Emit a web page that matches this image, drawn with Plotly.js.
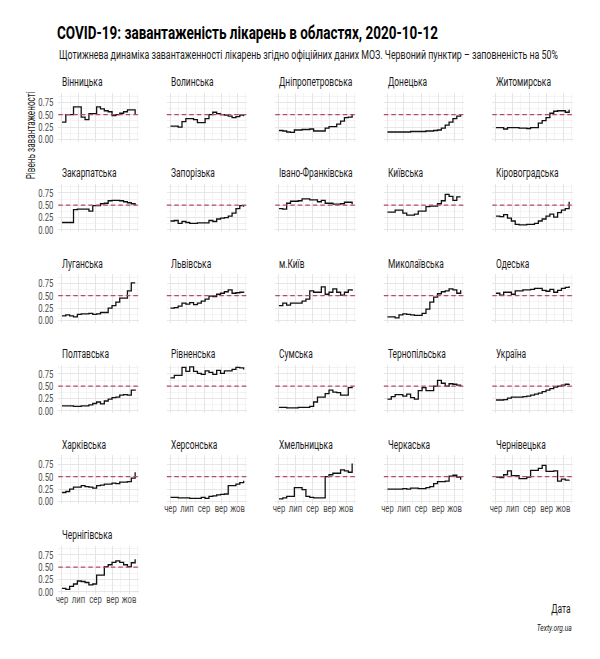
<!DOCTYPE html>
<html>
<head>
<meta charset="utf-8">
<script src="https://cdn.plot.ly/plotly-3.0.1.min.js"></script>
<style>
  html, body { margin: 0; padding: 0; background: #ffffff; }
  #chart { width: 600px; height: 659px; }
</style>
</head>
<body>
<div id="chart"></div>
<script>
// Weekly report dates
const WEEKS = [
  '2020-06-01', '2020-06-08', '2020-06-15', '2020-06-22', '2020-06-29',
  '2020-07-06', '2020-07-13', '2020-07-20', '2020-07-27', '2020-08-03',
  '2020-08-10', '2020-08-17', '2020-08-24', '2020-08-31', '2020-09-07',
  '2020-09-14', '2020-09-21', '2020-09-28', '2020-10-05', '2020-10-12'
];

// Hospital bed occupancy share, by region
const vinnytsia    = [0.35,0.50,0.50,0.66,0.66,0.45,0.40,0.52,0.52,0.66,0.62,0.58,0.56,0.48,0.50,0.53,0.56,0.60,0.60,0.50];
const volyn        = [0.27,0.27,0.25,0.36,0.42,0.42,0.40,0.34,0.34,0.42,0.50,0.55,0.52,0.50,0.49,0.47,0.44,0.46,0.49,0.47];
const dnipro       = [0.18,0.17,0.15,0.14,0.19,0.19,0.20,0.20,0.21,0.17,0.17,0.17,0.23,0.26,0.26,0.31,0.37,0.44,0.45,0.50];
const donetsk      = [0.15,0.15,0.15,0.15,0.15,0.15,0.16,0.16,0.16,0.16,0.17,0.17,0.18,0.19,0.23,0.29,0.35,0.42,0.47,0.50];
const zhytomyr     = [0.24,0.24,0.21,0.24,0.24,0.24,0.23,0.23,0.22,0.24,0.24,0.33,0.38,0.44,0.53,0.57,0.58,0.58,0.55,0.60];
const zakarpattia  = [0.15,0.15,0.15,0.41,0.42,0.42,0.42,0.38,0.49,0.49,0.53,0.54,0.59,0.60,0.60,0.59,0.57,0.55,0.53,0.50];
const zaporizhzhia = [0.18,0.19,0.13,0.17,0.15,0.13,0.13,0.14,0.14,0.14,0.19,0.17,0.22,0.24,0.25,0.28,0.34,0.43,0.49,0.47];
const ivanoFrank   = [0.43,0.42,0.54,0.58,0.58,0.59,0.63,0.63,0.61,0.61,0.57,0.60,0.54,0.54,0.52,0.52,0.53,0.56,0.56,0.52];
const kyivRegion   = [0.36,0.36,0.40,0.40,0.34,0.30,0.30,0.32,0.38,0.38,0.47,0.48,0.48,0.53,0.59,0.72,0.68,0.60,0.67,0.67];
const kirovohrad   = [0.28,0.27,0.31,0.24,0.18,0.11,0.10,0.10,0.11,0.11,0.13,0.18,0.22,0.28,0.32,0.26,0.35,0.40,0.43,0.57];
const luhansk      = [0.09,0.11,0.09,0.07,0.12,0.13,0.13,0.14,0.12,0.13,0.16,0.16,0.25,0.30,0.37,0.45,0.45,0.60,0.76,0.76];
const lviv         = [0.25,0.26,0.29,0.35,0.33,0.36,0.32,0.35,0.39,0.43,0.49,0.48,0.53,0.55,0.58,0.62,0.55,0.56,0.57,0.56];
const kyivCity     = [0.30,0.35,0.31,0.35,0.35,0.35,0.39,0.43,0.60,0.57,0.57,0.68,0.53,0.57,0.64,0.57,0.51,0.57,0.62,0.60];
const mykolaiv     = [0.07,0.07,0.05,0.11,0.13,0.12,0.11,0.10,0.10,0.14,0.23,0.37,0.47,0.54,0.58,0.60,0.64,0.62,0.55,0.61];
const odesa        = [0.55,0.51,0.57,0.57,0.53,0.60,0.60,0.62,0.62,0.63,0.65,0.65,0.61,0.59,0.63,0.57,0.61,0.65,0.67,0.69];
const poltava      = [0.10,0.10,0.10,0.09,0.09,0.10,0.10,0.12,0.15,0.18,0.14,0.20,0.24,0.27,0.28,0.32,0.33,0.32,0.42,0.41];
const rivne        = [0.67,0.72,0.72,0.88,0.80,0.89,0.80,0.76,0.74,0.81,0.78,0.74,0.82,0.76,0.81,0.81,0.84,0.88,0.87,0.84];
const sumy         = [0.07,0.07,0.06,0.06,0.06,0.07,0.07,0.07,0.09,0.18,0.28,0.28,0.35,0.42,0.38,0.37,0.32,0.32,0.47,0.50];
const ternopil     = [0.24,0.29,0.33,0.33,0.30,0.34,0.27,0.24,0.41,0.47,0.41,0.41,0.50,0.62,0.56,0.50,0.55,0.54,0.52,0.50];
const ukraine      = [0.22,0.22,0.23,0.26,0.28,0.28,0.28,0.29,0.30,0.32,0.34,0.36,0.39,0.42,0.45,0.48,0.50,0.52,0.54,0.55];
const kharkiv      = [0.18,0.20,0.25,0.29,0.29,0.32,0.30,0.29,0.27,0.32,0.33,0.35,0.35,0.37,0.36,0.39,0.39,0.40,0.47,0.59];
const kherson      = [0.08,0.08,0.07,0.07,0.07,0.06,0.06,0.06,0.08,0.06,0.10,0.11,0.13,0.14,0.15,0.32,0.32,0.35,0.38,0.42];
const khmelnytskyi = [0.05,0.07,0.10,0.10,0.28,0.28,0.24,0.10,0.08,0.07,0.07,0.07,0.50,0.54,0.57,0.57,0.64,0.62,0.59,0.77];
const cherkasy     = [0.25,0.25,0.25,0.25,0.26,0.25,0.27,0.27,0.26,0.26,0.28,0.30,0.36,0.40,0.40,0.41,0.51,0.53,0.49,0.44];
const chernivtsi   = [0.49,0.48,0.54,0.62,0.52,0.52,0.46,0.46,0.49,0.63,0.63,0.67,0.73,0.61,0.61,0.62,0.41,0.45,0.43,0.44];
const chernihiv    = [0.07,0.05,0.11,0.16,0.22,0.21,0.19,0.14,0.16,0.34,0.34,0.51,0.55,0.60,0.63,0.60,0.55,0.51,0.59,0.66];

// Panel names, in facet order
const REGION_NAMES = [
  'Вінницька', 'Волинська', 'Дніпропетровська', 'Донецька', 'Житомирська',
  'Закарпатська', 'Запорізька', 'Івано-Франківська', 'Київська', 'Кіровоградська',
  'Луганська', 'Львівська', 'м.Київ', 'Миколаївська', 'Одеська',
  'Полтавська', 'Рівненська', 'Сумська', 'Тернопільська', 'Україна',
  'Харківська', 'Херсонська', 'Хмельницька', 'Черкаська', 'Чернівецька',
  'Чернігівська'
];
const REGION_VALUES = [
  vinnytsia, volyn, dnipro, donetsk, zhytomyr,
  zakarpattia, zaporizhzhia, ivanoFrank, kyivRegion, kirovohrad,
  luhansk, lviv, kyivCity, mykolaiv, odesa,
  poltava, rivne, sumy, ternopil, ukraine,
  kharkiv, kherson, khmelnytskyi, cherkasy, chernivtsi,
  chernihiv
];

// Axis ticks
const MONTH_TICKS  = ['2020-06-01', '2020-07-01', '2020-08-01', '2020-09-01', '2020-10-01'];
const MONTH_LABELS = ['чер', 'лип', 'сер', 'вер', 'жов'];
const MONTH_MINOR  = ['2020-06-16', '2020-07-16 12:00', '2020-08-16 12:00', '2020-09-16', '2020-10-16'];
const Y_TICKS  = [0, 0.25, 0.5, 0.75];
const Y_LABELS = ['0.00', '0.25', '0.50', '0.75'];
const Y_MINOR  = [0.125, 0.375, 0.625, 0.875];
const HALF_FULL = 0.5;   // 50% occupancy reference

const TITLE_TEXT    = 'COVID-19: завантаженість лікарень в областях, 2020-10-12';
const SUBTITLE_TEXT = 'Щотижнева динаміка завантаженності лікарень згідно офіційних даних МОЗ. Червоний пунктир – заповненість на 50%';
const Y_TITLE_TEXT  = 'Рівень завантаженості';
const X_TITLE_TEXT  = 'Дата';
const CAPTION_TEXT  = 'Texty.org.ua';

// ---- geometry (pixels on a 600 x 659 canvas) ----
const W = 600, H = 659;
const NCOL = 5;
const COL_LEFT = [58.3, 166.8, 275.3, 383.8, 492.3];
const PANEL_W = 80.5;
const ROW_TOP = [93.0, 183.5, 274.0, 364.5, 455.0, 545.5];
const PANEL_H = 48.6;
const X_RANGE = ['2020-05-25 08:24', '2020-10-18 15:36'];
const Y_RANGE = [-0.045, 0.94];

const FONT = 'Roboto, "Liberation Sans", sans-serif';
const SQUEEZE = 0.7;            // narrow lettering
const FIXED_WIDTH = {            // px widths of the longer texts
  [TITLE_TEXT]: 381,
  [SUBTITLE_TEXT]: 499,
  [Y_TITLE_TEXT]: 88,
  [CAPTION_TEXT]: 35
};
const MONTH_LIFT = -3.5;        // month labels sit close under the panel
const GRID_MAJOR = '#e6e6e6';
const GRID_MINOR = '#efefef';
const TICK_FONT = { family: FONT, size: 11, color: '#4d4d4d' };

const px = v => v / W;
const py = v => 1 - v / H;

const traces = [];
const shapes = [];
const annotations = [];
const layout = {
  width: W, height: H,
  margin: { l: 0, r: 0, t: 0, b: 0 },
  paper_bgcolor: '#ffffff',
  plot_bgcolor: '#ffffff',
  showlegend: false,
  font: { family: FONT, color: '#1a1a1a' },
  title: {
    text: TITLE_TEXT,
    font: { family: FONT, size: 18.5, weight: 700, color: '#000000' },
    xref: 'container', yref: 'container',
    x: px(57), xanchor: 'left',
    y: py(33), yanchor: 'middle'
  }
};

const n = REGION_NAMES.length;

REGION_NAMES.forEach((name, i) => {
  const row = Math.floor(i / NCOL);
  const col = i % NCOL;
  const k = i + 1;
  const xa = 'x' + (k === 1 ? '' : k);
  const ya = 'y' + (k === 1 ? '' : k);
  const left = COL_LEFT[col];
  const top = ROW_TOP[row];

  // bottom panel of its column carries the month labels
  const showX = (i + NCOL) >= n;
  const showY = col === 0;

  layout['xaxis' + (k === 1 ? '' : k)] = {
    domain: [px(left), px(left + PANEL_W)],
    anchor: ya,
    type: 'date',
    range: X_RANGE,
    tickmode: 'array',
    tickvals: MONTH_TICKS,
    ticktext: MONTH_LABELS,
    tickangle: 0,
    showticklabels: showX,
    ticks: '',
    ticklabelstandoff: 0,
    tickfont: TICK_FONT,
    showgrid: true,
    gridcolor: GRID_MAJOR,
    gridwidth: 1,
    minor: { tickmode: 'array', tickvals: MONTH_MINOR, showgrid: true, gridcolor: GRID_MINOR, gridwidth: 0.7 },
    zeroline: false,
    showline: false,
    fixedrange: true
  };
  layout['yaxis' + (k === 1 ? '' : k)] = {
    domain: [py(top + PANEL_H), py(top)],
    anchor: xa,
    range: Y_RANGE,
    tickmode: 'array',
    tickvals: Y_TICKS,
    ticktext: Y_LABELS,
    showticklabels: showY,
    ticks: '',
    ticklabelstandoff: 4,
    tickfont: TICK_FONT,
    showgrid: true,
    gridcolor: GRID_MAJOR,
    gridwidth: 1,
    minor: { tickmode: 'array', tickvals: Y_MINOR, showgrid: true, gridcolor: GRID_MINOR, gridwidth: 0.7 },
    zeroline: false,
    showline: false,
    fixedrange: true
  };

  traces.push({
    type: 'scatter',
    mode: 'lines',
    x: WEEKS,
    y: REGION_VALUES[i],
    xaxis: xa,
    yaxis: ya,
    line: { shape: 'hv', color: '#111111', width: 1.3 },
    hoverinfo: 'skip'
  });

  shapes.push({
    type: 'line',
    xref: xa + ' domain', yref: ya,
    x0: 0, x1: 1, y0: HALF_FULL, y1: HALF_FULL,
    line: { color: '#b94a63', width: 1.2, dash: '4.5px,3px' }
  });

  annotations.push({
    text: name,
    xref: 'paper', yref: 'paper',
    x: px(left + 2), xanchor: 'left',
    y: py(top - 10.5), yanchor: 'middle',
    showarrow: false,
    font: { family: FONT, size: 12, color: '#1a1a1a' }
  });
});

annotations.push({
  text: SUBTITLE_TEXT,
  xref: 'paper', yref: 'paper',
  x: px(57), xanchor: 'left',
  y: py(55), yanchor: 'middle',
  showarrow: false,
  font: { family: FONT, size: 12, color: '#1a1a1a' }
});
annotations.push({
  text: Y_TITLE_TEXT,
  xref: 'paper', yref: 'paper',
  x: px(31), xanchor: 'center',
  y: py(135), yanchor: 'middle',
  textangle: -90,
  showarrow: false,
  font: { family: FONT, size: 12, color: '#1a1a1a' }
});
annotations.push({
  text: X_TITLE_TEXT,
  xref: 'paper', yref: 'paper',
  x: px(573), xanchor: 'right',
  y: py(609), yanchor: 'middle',
  showarrow: false,
  font: { family: FONT, size: 12, color: '#1a1a1a' }
});
annotations.push({
  text: CAPTION_TEXT,
  xref: 'paper', yref: 'paper',
  x: px(574), xanchor: 'right',
  y: py(627), yanchor: 'middle',
  showarrow: false,
  font: { family: FONT, size: 9.5, style: 'italic', color: '#1a1a1a' }
});

layout.shapes = shapes;
layout.annotations = annotations;

// Narrow every label horizontally, keeping its anchor point in place
function narrowText(gd) {
  const leftSet = new Set([TITLE_TEXT, SUBTITLE_TEXT, ...REGION_NAMES]);
  const rightSet = new Set([X_TITLE_TEXT, CAPTION_TEXT, ...Y_LABELS]);
  const monthSet = new Set(MONTH_LABELS);
  gd.querySelectorAll('svg text').forEach(t => {
    const label = t.textContent;
    if (!label) return;
    const len = t.getComputedTextLength();
    if (!len) return;
    const target = FIXED_WIDTH[label] || len * SQUEEZE;
    const b0 = t.getBBox();
    t.setAttribute('textLength', target.toFixed(2));
    t.setAttribute('lengthAdjust', 'spacingAndGlyphs');
    const b1 = t.getBBox();
    let dx;
    if (leftSet.has(label)) dx = b0.x - b1.x;
    else if (rightSet.has(label)) dx = (b0.x + b0.width) - (b1.x + b1.width);
    else dx = (b0.x + b0.width / 2) - (b1.x + b1.width / 2);
    const dy = monthSet.has(label) ? MONTH_LIFT : 0;
    if (Math.abs(dx) > 0.05 || dy) {
      const tr = t.getAttribute('transform') || '';
      t.setAttribute('transform', (tr + ' translate(' + dx.toFixed(2) + ',' + dy + ')').trim());
    }
  });
}

Plotly.newPlot('chart', traces, layout, { displayModeBar: false, staticPlot: true })
  .then(narrowText);
</script>
</body>
</html>
